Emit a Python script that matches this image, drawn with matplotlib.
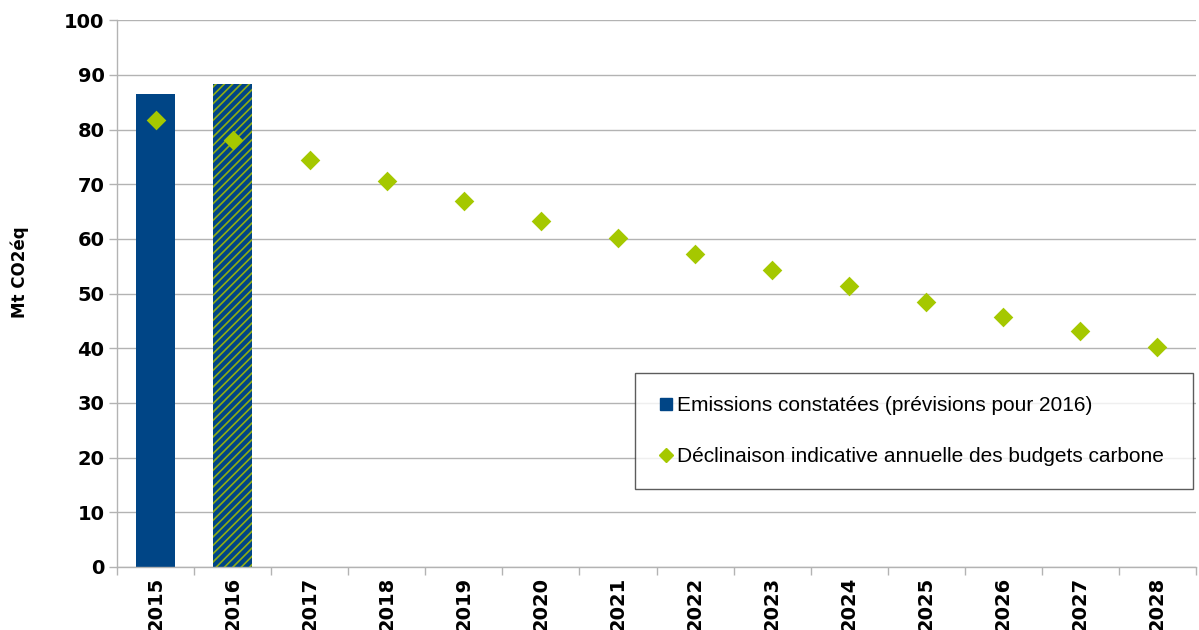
import numpy as np
import matplotlib.pyplot as plt
from matplotlib.lines import Line2D

years = ['2015', '2016', '2017', '2018', '2019', '2020', '2021',
         '2022', '2023', '2024', '2025', '2026', '2027', '2028']
emissions = [86.5, 88.3]  # 2015 observed, 2016 forecast
budget = [81.7, 78.1, 74.4, 70.6, 66.9, 63.3, 60.1,
          57.2, 54.3, 51.4, 48.4, 45.7, 43.1, 40.2]

blue = '#004586'
green = '#a5c800'
grid_c = '#b3b3b3'

plt.rcParams['hatch.linewidth'] = 1.2

fig = plt.figure(figsize=(11.99, 6.30), dpi=100)
ax = fig.add_axes([0.0976, 0.1, 0.8999, 0.868])

x = np.arange(len(years))
ax.bar(x[0], emissions[0], width=0.5, color=blue, zorder=2)
ax.bar(x[1], emissions[1], width=0.5, facecolor=blue, edgecolor='#8fae12',
       linewidth=0, hatch='////', zorder=2)
ax.scatter(x, budget, marker='D', s=100, color=green, zorder=3, linewidths=0)

ax.set_xlim(-0.5, len(years) - 0.5)
ax.set_ylim(0, 100)
ax.set_yticks(np.arange(0, 101, 10))
ax.set_xticks(x)
ax.set_xticklabels(years, rotation=90, fontweight='bold', fontsize=14)
ax.set_xticks(np.arange(-0.5, len(years), 1), minor=True)
for lab in ax.get_yticklabels():
    lab.set_fontweight('bold')
    lab.set_fontsize(14)

ax.tick_params(axis='x', which='major', length=0, pad=7)
ax.tick_params(axis='x', which='minor', length=6, color=grid_c, width=1)
ax.tick_params(axis='y', length=6, color=grid_c, width=1, pad=3)

ax.grid(axis='y', color=grid_c, linewidth=1, zorder=0)
ax.set_axisbelow(True)
for s in ['top', 'right']:
    ax.spines[s].set_visible(False)
for s in ['left', 'bottom']:
    ax.spines[s].set_color(grid_c)
    ax.spines[s].set_linewidth(1)

ax.set_ylabel('Mt CO2éq', fontweight='bold', fontsize=12)
ax.yaxis.set_label_coords(-0.082, 0.54)

handles = [
    Line2D([], [], marker='s', linestyle='none', color=blue, markersize=8),
    Line2D([], [], marker='D', linestyle='none', color=green, markersize=7),
]
labels = ['Emissions constatées (prévisions pour 2016)',
          'Déclinaison indicative annuelle des budgets carbone']
leg = ax.legend(handles, labels, loc='lower left',
                bbox_to_anchor=(0.48, 0.1426, 0.5175, 0.212), mode='expand',
                frameon=True, fancybox=False, edgecolor='#333333',
                prop={'family': 'Liberation Sans', 'size': 15},
                handletextpad=0.1, handlelength=0.8, labelspacing=1.55,
                borderpad=1.1, borderaxespad=0)
leg.get_frame().set_linewidth(1)

plt.savefig('out.png', dpi=100)
